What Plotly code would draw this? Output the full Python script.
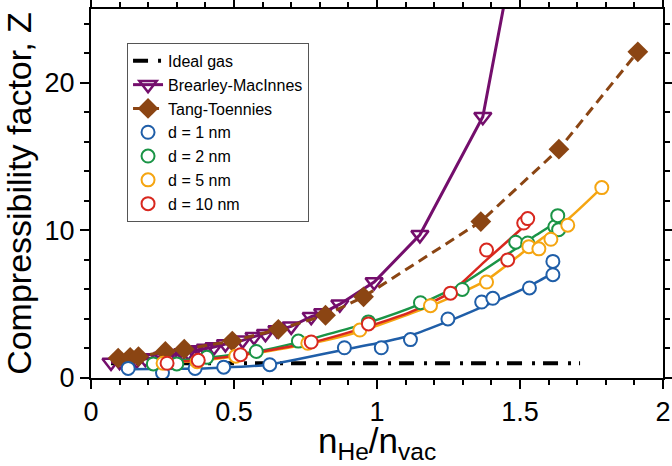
import plotly.graph_objects as go

# ---------------- data ----------------
ideal_x = [0.07, 1.71]
ideal_y = [1.0, 1.0]

bm_x = [0.07, 0.10, 0.13, 0.16, 0.19, 0.22, 0.25, 0.28, 0.30, 0.32, 0.34, 0.36, 0.38, 0.40,
        0.43, 0.47, 0.53, 0.57, 0.61, 0.65, 0.70, 0.77, 0.81, 0.87, 0.99, 1.15, 1.37, 1.50]
bm_y = [1.05, 1.1, 1.15, 1.2, 1.3, 1.35, 1.45, 1.55, 1.6, 1.7, 1.75, 1.85, 1.9, 2.0,
        2.1, 2.3, 2.55, 2.8, 3.0, 3.25, 3.5, 4.15, 4.4, 5.0, 6.5, 9.7, 17.7, 31.0]

tt_x = [0.095, 0.137, 0.166, 0.26, 0.326, 0.494, 0.655, 0.82, 0.953, 1.363, 1.636, 1.912]
tt_y = [1.35, 1.4, 1.45, 1.8, 1.95, 2.5, 3.3, 4.25, 5.5, 10.6, 15.5, 22.1]

d1_x = [0.13, 0.25, 0.364, 0.464, 0.625, 0.886, 1.015, 1.117, 1.248, 1.366, 1.405, 1.533, 1.615, 1.615]
d1_y = [0.65, 0.35, 0.65, 0.73, 0.9, 2.05, 2.05, 2.6, 4.0, 5.15, 5.4, 6.1, 7.0, 7.9]
d1_fit_x = [0.13, 0.3, 0.46, 0.62, 0.88, 1.0, 1.12, 1.25, 1.33, 1.45, 1.54, 1.615]
d1_fit_y = [0.6, 0.62, 0.7, 0.9, 1.9, 2.35, 2.9, 3.85, 4.5, 5.5, 6.3, 7.1]

d2_x = [0.218, 0.30, 0.405, 0.578, 0.725, 0.97, 1.152, 1.298, 1.485, 1.527, 1.622, 1.635, 1.632]
d2_y = [0.95, 0.95, 1.4, 1.8, 2.5, 3.8, 5.1, 6.0, 9.2, 9.15, 10.25, 10.05, 11.0]
d2_fit_x = [0.2, 0.4, 0.58, 0.73, 0.97, 1.15, 1.3, 1.45, 1.55, 1.632]
d2_fit_y = [0.95, 1.35, 1.8, 2.45, 3.75, 5.0, 6.4, 8.3, 9.6, 10.6]

d5_x = [0.252, 0.371, 0.506, 0.758, 0.94, 1.187, 1.383, 1.531, 1.566, 1.608, 1.667, 1.786]
d5_y = [1.0, 1.1, 1.48, 2.35, 3.25, 4.9, 6.5, 8.9, 8.75, 9.4, 10.35, 12.9]
d5_fit_x = [0.25, 0.37, 0.5, 0.76, 0.94, 1.19, 1.38, 1.53, 1.67, 1.786]
d5_fit_y = [1.0, 1.15, 1.45, 2.3, 3.15, 4.9, 6.6, 8.8, 10.8, 12.9]

d10_x = [0.266, 0.375, 0.523, 0.77, 0.97, 1.257, 1.383, 1.457, 1.513, 1.527]
d10_y = [1.0, 1.2, 1.58, 2.44, 3.66, 5.75, 8.67, 8.0, 10.5, 10.8]
d10_fit_x = [0.25, 0.37, 0.52, 0.77, 0.97, 1.12, 1.257, 1.383, 1.513]
d10_fit_y = [1.0, 1.2, 1.55, 2.4, 3.5, 4.5, 5.8, 8.0, 10.25]

x_ticks = [0, 0.5, 1, 1.5, 2]
x_tick_labels = ["0", "0.5", "1", "1.5", "2"]
y_ticks = [0, 10, 20]
y_tick_labels = ["0", "10", "20"]
x_title = "n<sub>He</sub>/n<sub>vac</sub>"
y_title = "Compressibility factor, Z"

# ---------------- styles ----------------
FONT = "Arial, Liberation Sans, sans-serif"
C_BLUE = "#1f5ea8"
C_GREEN = "#1a9446"
C_ORANGE = "#f5a511"
C_RED = "#d8281f"
C_PURPLE = "#740e6c"
C_BROWN = "#8b4513"

fig = go.Figure()

fig.add_trace(go.Scatter(
    x=ideal_x, y=ideal_y, mode="lines", name="Ideal gas",
    line=dict(color="black", width=4, dash="15px,10px,3px,8px")))

fig.add_trace(go.Scatter(
    x=bm_x, y=bm_y, mode="lines+markers", name="Brearley-MacInnes",
    line=dict(color=C_PURPLE, width=3),
    marker=dict(symbol="triangle-down-open", size=15, color=C_PURPLE,
                line=dict(width=2.5, color=C_PURPLE))))

fig.add_trace(go.Scatter(
    x=tt_x, y=tt_y, mode="lines+markers", name="Tang-Toennies",
    line=dict(color=C_BROWN, width=3, dash="10px,6px"),
    marker=dict(symbol="diamond", size=16, color=C_BROWN)))

series = [
    ("d = 1 nm", d1_x, d1_y, d1_fit_x, d1_fit_y, C_BLUE),
    ("d = 2 nm", d2_x, d2_y, d2_fit_x, d2_fit_y, C_GREEN),
    ("d = 5 nm", d5_x, d5_y, d5_fit_x, d5_fit_y, C_ORANGE),
    ("d = 10 nm", d10_x, d10_y, d10_fit_x, d10_fit_y, C_RED),
]
for name, sx, sy, fx, fy, col in series:
    fig.add_trace(go.Scatter(
        x=fx, y=fy, mode="lines", showlegend=False, hoverinfo="skip",
        line=dict(color=col, width=2.5, shape="spline", smoothing=0.6)))
for name, sx, sy, fx, fy, col in series:
    fig.add_trace(go.Scatter(
        x=sx, y=sy, mode="markers", name=name,
        marker=dict(symbol="circle", size=13, color="white",
                    line=dict(width=2, color=col))))

axis_common = dict(
    showline=True, linecolor="black", linewidth=2, mirror="allticks",
    ticks="outside", ticklen=9, tickwidth=1.5, tickcolor="black",
    showgrid=False, zeroline=False, automargin=False,
    tickfont=dict(family=FONT, size=27, color="black"),
)

fig.update_xaxes(
    range=[0, 2], tickvals=x_ticks, ticktext=x_tick_labels,
    minor=dict(dtick=0.1, ticklen=5, tickwidth=1.5, tickcolor="black", ticks="outside"),
    **axis_common)
fig.update_yaxes(
    range=[0, 25], tickvals=y_ticks, ticktext=y_tick_labels,
    minor=dict(dtick=2, ticklen=5, tickwidth=1.5, tickcolor="black", ticks="outside"),
    title=dict(text=y_title,
               font=dict(family=FONT, size=34, color="black"), standoff=6),
    **axis_common)

fig.add_annotation(
    text=x_title, xref="paper", yref="paper", x=0.5, y=0,
    xanchor="center", yanchor="bottom", yshift=-88, showarrow=False,
    borderpad=0,
    font=dict(family=FONT, size=35, color="black"))

fig.update_layout(
    width=672, height=466,
    margin=dict(l=91, r=9, t=9, b=88),
    plot_bgcolor="white", paper_bgcolor="white",
    font=dict(family=FONT, color="black"),
    legend=dict(
        x=0.063, y=0.908, xanchor="left", yanchor="top",
        bgcolor="white", bordercolor="#555555", borderwidth=1,
        font=dict(family=FONT, size=16, color="black"),
        tracegroupgap=0, itemwidth=30,
    ),
)

fig.write_html("out.html")
